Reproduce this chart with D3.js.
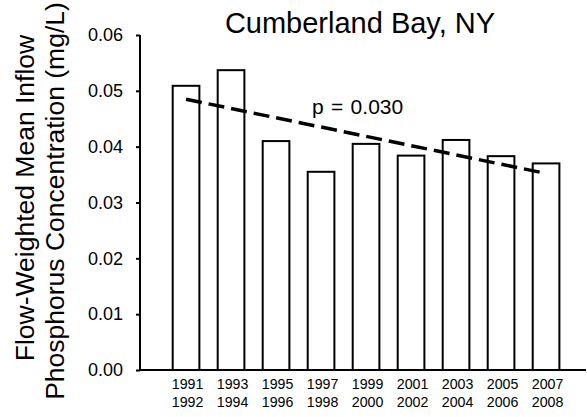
<!DOCTYPE html>
<html>
<head>
<meta charset="utf-8">
<script src="https://cdn.jsdelivr.net/npm/d3@7"></script>
<style>
  body { margin: 0; background: #fff; }
  svg { display: block; font-family: "Liberation Sans", Arial, sans-serif; }
</style>
</head>
<body>
<div id="chart"></div>
<script>
// chart data
var periods = ["1991-1992", "1993-1994", "1995-1996", "1997-1998", "1999-2000",
               "2001-2002", "2003-2004", "2005-2006", "2007-2008"]
var concentration = [0.0509, 0.0537, 0.0410, 0.0355, 0.0405, 0.0384, 0.0412, 0.0383, 0.0370]
var trendEnds = [0.0485, 0.0352]
var yTicks = [0.00, 0.01, 0.02, 0.03, 0.04, 0.05, 0.06]

var width = 587, height = 417

var svg = d3.select("#chart")
            .append("svg")
              .attr("width", width)
              .attr("height", height)

// scales
var xScale = d3.scaleBand()
                .domain(periods)
                .range([150.2, 581.9])
                .paddingInner(0.407)
                .paddingOuter(0.5)
var yScale = d3.scaleLinear()
                .domain([0, 0.06])
                .range([370, 35])

// bars
svg.selectAll("rect.bar")
  .data(concentration)
  .enter()
  .append("rect")
  .attr("class", "bar")
  .attr("x", function(d, i) { return xScale(periods[i]) })
  .attr("y", function(d) { return yScale(d) })
  .attr("width", xScale.bandwidth())
  .attr("height", function(d) { return yScale(0) - yScale(d) })
  .attr("fill", "#fff")
  .attr("stroke", "#000")
  .attr("stroke-width", 2)

// y axis
var yAxis = svg.append("g")
  .attr("transform", "translate(140,0)")
  .call(d3.axisLeft(yScale).tickValues(yTicks).tickFormat(d3.format(".2f")).tickSize(4).tickPadding(13))
yAxis.select(".domain").attr("stroke-width", 2).attr("d", "M0," + yScale(0.06) + "V" + yScale(0))
yAxis.selectAll(".tick line").attr("stroke-width", 2)
yAxis.selectAll(".tick text")
  .attr("font-size", 18)
  .attr("font-family", "Liberation Sans, Arial, sans-serif")
  .attr("fill", "#000")

// x axis line
svg.append("line")
  .attr("x1", 139).attr("x2", 586)
  .attr("y1", yScale(0)).attr("y2", yScale(0))
  .attr("stroke", "#000")
  .attr("stroke-width", 2)

// x tick labels (two rows)
var labels = svg.selectAll("g.xlab")
  .data(periods)
  .enter()
  .append("g")
  .attr("class", "xlab")
  .attr("transform", function(d) { return "translate(" + (xScale(d) + xScale.bandwidth() / 2 + 1.5) + ",0)" })
labels.append("text")
  .attr("y", 389)
  .attr("text-anchor", "middle")
  .attr("font-size", 14.2)
  .text(function(d) { return d.split("-")[0] })
labels.append("text")
  .attr("y", 407)
  .attr("text-anchor", "middle")
  .attr("font-size", 14.2)
  .text(function(d) { return d.split("-")[1] })

// trend line
var cx = function(p) { return xScale(p) + xScale.bandwidth() / 2 }
svg.append("line")
  .attr("x1", cx(periods[0]))
  .attr("y1", yScale(trendEnds[0]))
  .attr("x2", cx(periods[periods.length - 1]))
  .attr("y2", yScale(trendEnds[1]))
  .attr("stroke", "#000")
  .attr("stroke-width", 3.5)
  .attr("stroke-dasharray", "16,7")

svg.append("text")
  .attr("x", 312)
  .attr("y", 114)
  .attr("font-size", 21)
  .attr("word-spacing", 1.5)
  .text("p = 0.030")

// title
svg.append("text")
  .attr("x", 360)
  .attr("y", 33)
  .attr("text-anchor", "middle")
  .attr("font-size", 29)
  .text("Cumberland Bay, NY")

// y axis title
var yTitle = svg.append("text")
  .attr("transform", "rotate(-90)")
  .attr("text-anchor", "middle")
  .attr("font-size", 26.5)
yTitle.append("tspan").attr("x", -198).attr("y", 34).text("Flow-Weighted Mean Inflow")
yTitle.append("tspan").attr("x", -201).attr("y", 63.5).text("Phosphorus Concentration (mg/L)")
</script>
</body>
</html>
